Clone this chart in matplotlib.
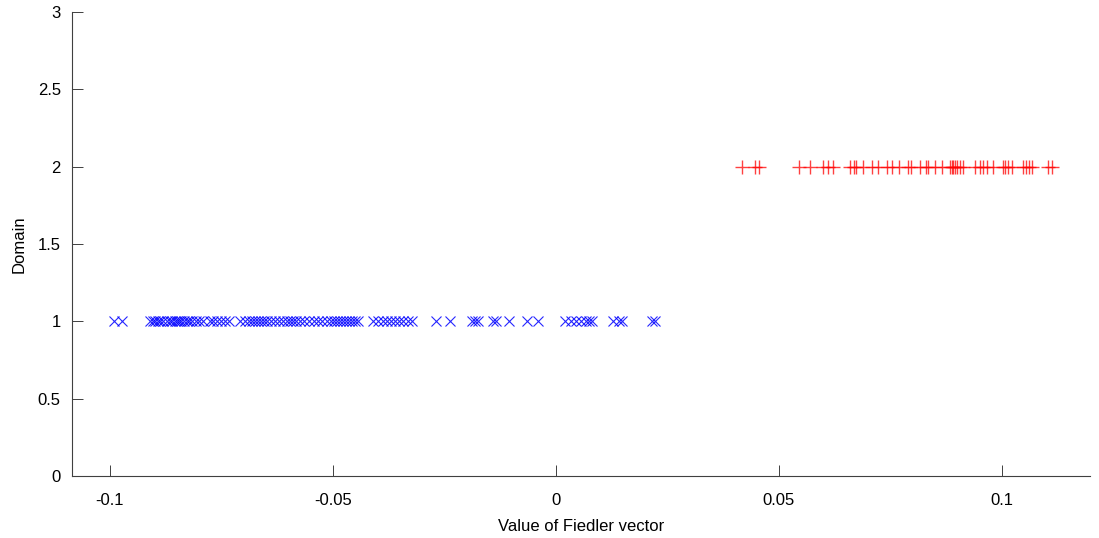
import matplotlib.pyplot as plt

# values
domain1_x = [
    -0.0990, -0.0973,
    -0.0911, -0.0904, -0.0898, -0.0892, -0.0887, -0.0880, -0.0872, -0.0866,
    -0.0860, -0.0855, -0.0850, -0.0845, -0.0840, -0.0834, -0.0828, -0.0822,
    -0.0815, -0.0808, -0.0800, -0.0791,
    -0.0776, -0.0769, -0.0760, -0.0751, -0.0742, -0.0733,
    -0.0709, -0.0697, -0.0688, -0.0682, -0.0675, -0.0668, -0.0661, -0.0655,
    -0.0648, -0.0639, -0.0630, -0.0621, -0.0612, -0.0603, -0.0596, -0.0590,
    -0.0583, -0.0574, -0.0565, -0.0554, -0.0543, -0.0534, -0.0525, -0.0513,
    -0.0504, -0.0498, -0.0491, -0.0484, -0.0478, -0.0471, -0.0464, -0.0457,
    -0.0451, -0.0444,
    -0.0410, -0.0399, -0.0388, -0.0379, -0.0370, -0.0361, -0.0352, -0.0343,
    -0.0332, -0.0323,
    -0.0269, -0.0238,
    -0.0188, -0.0182, -0.0175,
    -0.0141, -0.0135, -0.0105,
    -0.0065, -0.0040,
    0.0020, 0.0034, 0.0045, 0.0056, 0.0067, 0.0074, 0.0081,
    0.0128, 0.0141, 0.0148,
    0.0215, 0.0222,
]
domain2_x = [
    0.0417, 0.0446, 0.0455,
    0.0545, 0.0570, 0.0599, 0.0610, 0.0621,
    0.0659, 0.0668, 0.0673, 0.0688, 0.0709, 0.0722, 0.0742, 0.0753, 0.0769,
    0.0789, 0.0796, 0.0816, 0.0830, 0.0834, 0.0850, 0.0865,
    0.0883, 0.0888, 0.0890, 0.0895, 0.0899, 0.0906, 0.0913,
    0.0939, 0.0951, 0.0957, 0.0966, 0.0980,
    0.1002, 0.1007, 0.1013, 0.1022,
    0.1047, 0.1054, 0.1061, 0.1067,
    0.1103, 0.1112,
]
xticks = [-0.1, -0.05, 0, 0.05, 0.1]
xtick_labels = ["-0.1", "-0.05", "0", "0.05", "0.1"]
yticks = [0, 0.5, 1, 1.5, 2, 2.5, 3]
ytick_labels = ["0", "0.5", "1", "1.5", "2", "2.5", "3"]

plt.rcParams['font.family'] = ['Liberation Sans', 'DejaVu Sans']

fig = plt.figure(figsize=(10.99, 5.38), dpi=100)
ax = fig.add_axes([0.0655, 0.1152, 0.926, 0.8625])

ax.plot(domain1_x, [1] * len(domain1_x), 'x', color='#0000ff',
        markersize=7, markeredgewidth=0.8, alpha=0.85)
ax.plot(domain2_x, [2] * len(domain2_x), '+', color='#ff0000',
        markersize=10, markeredgewidth=1.0, alpha=0.75)

ax.set_xlim(-0.1085, 0.1197)
ax.set_ylim(0, 3)
ax.set_xticks(xticks)
ax.set_xticklabels(xtick_labels)
ax.set_yticks(yticks)
ax.set_yticklabels(ytick_labels)

for side in ['top', 'right']:
    ax.spines[side].set_visible(False)
for side in ['left', 'bottom']:
    ax.spines[side].set_color('#404040')
    ax.spines[side].set_linewidth(0.8)

ax.tick_params(axis='both', direction='in', length=8, width=0.7,
               colors='#404040', labelcolor='black', labelsize=12)
ax.tick_params(axis='x', pad=12)
ax.tick_params(axis='y', pad=8)

ax.set_xlabel("Value of Fiedler vector", fontsize=12, labelpad=8)
ax.set_ylabel("Domain", fontsize=12, labelpad=8)

plt.savefig("out.png", dpi=100)
